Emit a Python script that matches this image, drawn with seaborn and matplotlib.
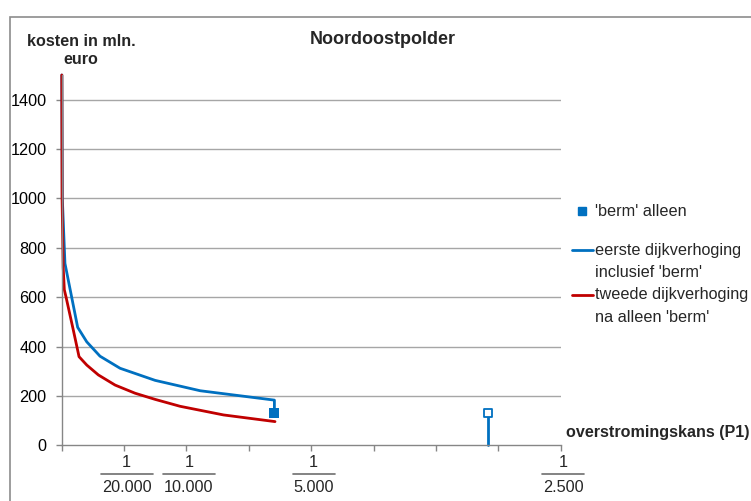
import matplotlib
matplotlib.use("Agg")
import matplotlib.pyplot as plt
import matplotlib.patches as mpatches
from matplotlib.lines import Line2D
import seaborn as sns
import pandas as pd

# ---- data ----
blue_p = [0.01e-5, 0.05e-5, 0.26e-5, 1.28e-5, 2.01e-5, 3.07e-5, 4.68e-5, 7.49e-5, 11.1e-5, 17.05e-5, 17.05e-5]
blue_c = [1500, 1000, 737, 478, 419, 361, 312, 263, 221, 183, 132]
red_p = [0.01e-5, 0.03e-5, 0.12e-5, 0.21e-5, 0.35e-5, 0.93e-5, 1.39e-5, 2.01e-5, 2.94e-5, 4.28e-5,
         5.88e-5, 7.49e-5, 9.49e-5, 12.97e-5, 17.1e-5]
red_c = [1500, 1000, 720, 630, 600, 467, 359, 325, 285, 244, 211, 186, 158, 123, 96]
berm_p = [17.05e-5]
berm_c = [132]
open_p = [34.16e-5, 34.16e-5]
open_c = [0, 132]
frac_ticks = [1 / 20000, 1 / 10000, 1 / 5000, 1 / 2500]
frac_denoms = ["20.000", "10.000", "5.000", "2.500"]
yticks = [0, 200, 400, 600, 800, 1000, 1200, 1400]

BLUE = "#0070C0"
RED = "#C00000"
GRID = "#A6A6A6"
AXC = "#868686"

sns.set_theme(style="white")
plt.rcParams["font.family"] = ["Liberation Sans", "DejaVu Sans"]

W, H = 751, 501
fig = plt.figure(figsize=(W / 100, H / 100), dpi=100)
fig.patch.set_facecolor("white")

ax = fig.add_axes([61.7 / W, 1 - 445.3 / H, (560.7 - 61.7) / W, (445.3 - 75) / H])
ax.set_facecolor("white")

df_b = pd.DataFrame({"p": blue_p, "c": blue_c})
df_r = pd.DataFrame({"p": red_p, "c": red_c})
df_o = pd.DataFrame({"p": open_p, "c": open_c})

sns.lineplot(data=df_b, x="p", y="c", sort=False, estimator=None, color=BLUE, lw=2.0, ax=ax)
sns.lineplot(data=df_r, x="p", y="c", sort=False, estimator=None, color=RED, lw=2.0, ax=ax)
sns.lineplot(data=df_o, x="p", y="c", sort=False, estimator=None, color=BLUE, lw=2.0, ax=ax)
for l in ax.lines:
    l.set_clip_on(False)
sns.scatterplot(x=berm_p, y=berm_c, marker="s", s=45, color=BLUE, edgecolor=BLUE, linewidth=0, ax=ax, zorder=5)
sns.scatterplot(x=open_p[-1:], y=open_c[-1:], marker="s", s=40, facecolor="white", edgecolor=BLUE,
                linewidth=1.3, ax=ax, zorder=5)

ax.set_xlim(0, 0.0004)
ax.set_ylim(0, 1500)
ax.set_xlabel("")
ax.set_ylabel("")
ax.set_yticks(yticks)
ax.set_yticklabels([str(v) for v in yticks], fontsize=11.7, color="black")
ax.set_xticks([i * 0.00005 for i in range(9)])
ax.set_xticklabels([])
for v in yticks[1:]:
    ax.axhline(v, color=GRID, lw=1.0, zorder=0)
ax.tick_params(axis="y", direction="out", length=4, width=1, color=AXC, pad=7, left=True)
ax.tick_params(axis="x", direction="out", length=4.5, width=1, color=AXC, bottom=True)
for s in ["top", "right"]:
    ax.spines[s].set_visible(False)
for s in ["left", "bottom"]:
    ax.spines[s].set_color(AXC)
    ax.spines[s].set_linewidth(1.0)

# fraction labels under x axis
for p, d in zip(frac_ticks, frac_denoms):
    px = ax.transData.transform((p, 0))[0] + 2.5
    fx = px / W
    fig.text(fx, 1 - 462.5 / H, "1", ha="center", va="center", fontsize=11.7)
    half = (26 if len(d) == 6 else 21) / W
    fig.add_artist(Line2D([fx - half, fx + half], [1 - 474 / H, 1 - 474 / H], color="#6E6E6E", lw=1.2,
                          transform=fig.transFigure))
    fig.text(fx, 1 - 487.5 / H, d, ha="center", va="center", fontsize=11.7)

# titles and axis labels
fig.text(383 / W, 1 - 40 / H, "Noordoostpolder", ha="center", va="center", fontsize=13, fontweight="bold")
fig.text(81 / W, 1 - 42 / H, "kosten in mln.", ha="center", va="center", fontsize=11.6, fontweight="bold")
fig.text(81 / W, 1 - 59.5 / H, "euro", ha="center", va="center", fontsize=11.6, fontweight="bold")
fig.text(566 / W, 1 - 432 / H, "overstromingskans (P1)", ha="left", va="center", fontsize=11.6,
         fontweight="bold")

# legend (manual, Excel-style)
fig.add_artist(Line2D([581.7 / W], [1 - 210.7 / H], marker="s", markersize=5.5, color=BLUE, lw=0,
                      transform=fig.transFigure))
fig.text(595 / W, 1 - 211 / H, "'berm' alleen", ha="left", va="center", fontsize=11.7)
fig.add_artist(Line2D([571.7 / W, 593 / W], [1 - 250 / H] * 2, color=BLUE, lw=2.0, transform=fig.transFigure))
fig.text(595 / W, 1 - 250 / H, "eerste dijkverhoging", ha="left", va="center", fontsize=11.7)
fig.text(595 / W, 1 - 272.5 / H, "inclusief 'berm'", ha="left", va="center", fontsize=11.7)
fig.add_artist(Line2D([571.7 / W, 593 / W], [1 - 295 / H] * 2, color=RED, lw=2.0, transform=fig.transFigure))
fig.text(595 / W, 1 - 295 / H, "tweede dijkverhoging", ha="left", va="center", fontsize=11.7)
fig.text(595 / W, 1 - 317 / H, "na alleen 'berm'", ha="left", va="center", fontsize=11.7)

# chart border
fig.add_artist(mpatches.Rectangle((10 / W, -0.05), 1.1, 1 - 17 / H + 0.05, fill=False, edgecolor="#8C8C8C",
                                  lw=1.2, transform=fig.transFigure))

fig.savefig("out.png", dpi=100, facecolor="white")
